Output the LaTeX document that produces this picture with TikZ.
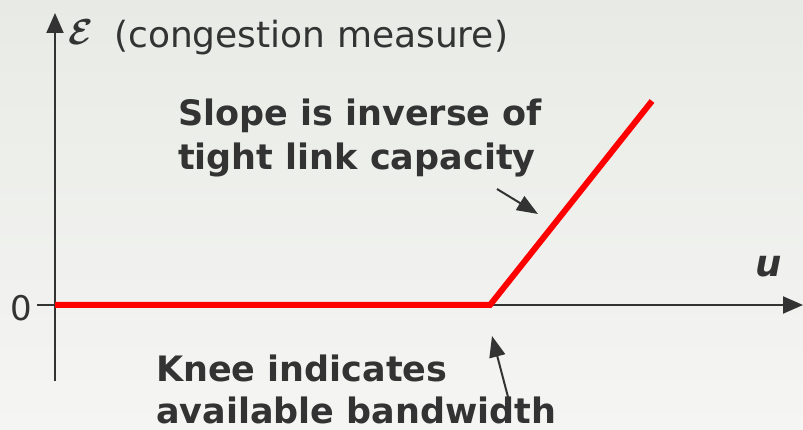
\documentclass[tikz,border=0pt]{standalone}
\usepackage{bm}
\usepackage{fontspec}
\setmainfont{DejaVu Sans}
\usetikzlibrary{arrows.meta}
\definecolor{ink}{RGB}{51,51,51}
\definecolor{curve}{RGB}{255,0,0}
\definecolor{bgtop}{RGB}{232,235,229}
\definecolor{bgbot}{RGB}{245,245,244}
\begin{document}
\begin{tikzpicture}[x=1pt,y=-1pt,
  axis/.style={draw=ink,line width=2pt,-{Triangle[length=20pt,width=17pt]}},
  pointer/.style={draw=ink,line width=2pt,-{Triangle[length=21pt,width=16pt]}},
  note/.style={text=ink,font=\fontsize{35}{44}\selectfont\bfseries,align=left,anchor=base west,inner sep=0pt},
  lbl/.style={text=ink,inner sep=0pt}]
  % background
  \shade[top color=bgtop,bottom color=bgbot] (0,0) rectangle (803,430);
  \useasboundingbox (0,0) rectangle (803,430);
  % axes
  \coordinate (origin) at (55,305);
  \coordinate (ytop) at (55,13);
  \coordinate (ybot) at (55,381);
  \coordinate (xend) at (803,305);
  \draw[axis] (ybot) -- (ytop);
  \draw[axis] (origin) -- (xend);
  \coordinate (tick) at (37,305);
  \draw[draw=ink,line width=2pt] (tick) -- (origin);
  \node[lbl,font=\fontsize{34}{34}\selectfont,anchor=base west] (zero) at (10,320) {0};
  % axis labels
  \node[lbl,anchor=base west,scale=1.45] (eps) at (68,45) {\fontsize{24.88}{24.88}\selectfont$\bm{\mathcal{E}}$};
  \node[lbl,anchor=base west,font=\fontsize{36}{36}\selectfont] (ylab) at (114,48) {(congestion measure)};
  \node[lbl,anchor=base west,font=\fontsize{37}{37}\selectfont\bfseries\itshape] (u) at (755,277) {u};
  % curve
  \coordinate (knee) at (490,305);
  \coordinate (top) at (652,101);
  \draw[curve,line width=6pt] (origin) -- (knee) -- (top);
  % annotations (base anchor sits on the last line)
  \node[note] (slope) at (178,170) {Slope is inverse of\\tight link capacity};
  \node[note,font=\fontsize{35}{42}\selectfont\bfseries] (kneetxt) at (156,423) {Knee indicates\\available bandwidth};
  \coordinate (s0) at (497,189);
  \coordinate (s1) at (538,214);
  \draw[pointer] (s0) -- (s1);
  \coordinate (k0) at (508,397);
  \coordinate (k1) at (492,336);
  \draw[pointer] (k0) -- (k1);
\end{tikzpicture}
\end{document}
